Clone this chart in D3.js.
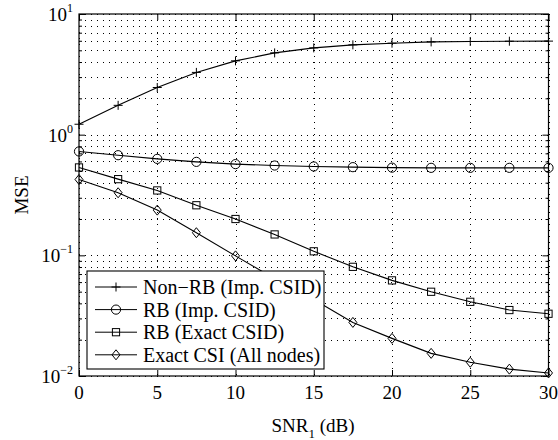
<!DOCTYPE html>
<html>
<head>
<meta charset="utf-8">
<script src="https://cdn.jsdelivr.net/npm/d3@7.9.0/dist/d3.min.js"></script>
<style>
  body { margin: 0; background: #fff; }
  svg { display: block; font-family: "Liberation Serif", "Times New Roman", serif; }
</style>
</head>
<body>
<svg id="chart" width="558" height="440"></svg>
<script>
// data
const snr = [0, 2.5, 5, 7.5, 10, 12.5, 15, 17.5, 20, 22.5, 25, 27.5, 30];
const nonRB = [1.22, 1.75, 2.46, 3.28, 4.09, 4.76, 5.24, 5.55, 5.73, 5.87, 5.92, 5.95, 5.96];
const rbImp = [0.726, 0.676, 0.63, 0.595, 0.57, 0.555, 0.545, 0.538, 0.533, 0.531, 0.531, 0.531, 0.531];
const rbExact = [0.535, 0.428, 0.345, 0.26, 0.2, 0.149, 0.108, 0.0803, 0.062, 0.0499, 0.0412, 0.0352, 0.0328];
const exactCSI = [0.425, 0.33, 0.237, 0.154, 0.099, 0.064, 0.043, 0.0278, 0.0205, 0.0154, 0.013, 0.0114, 0.0106];

const seriesNames = ['Non\u2212RB (Imp. CSID)', 'RB (Imp. CSID)', 'RB (Exact CSID)', 'Exact CSI (All nodes)'];
const seriesValues = [nonRB, rbImp, rbExact, exactCSI];
const markerTypes = ['plus', 'circle', 'square', 'diamond'];

const xTicks = [0, 5, 10, 15, 20, 25, 30];
const yExponents = [-2, -1, 0, 1];

const pLeft = 79, pRight = 548.5, pTop = 14, pBottom = 376;

const svg = d3.select('#chart');
const x = d3.scaleLinear().domain([0, 30]).range([pLeft, pRight]);
const y = d3.scaleLog().domain([0.01, 10]).range([pBottom, pTop]);

// grid
const minorY = [];
yExponents.slice(0, -1).forEach((e) => {
    for (let k = 1; k <= 9; k++) minorY.push(k * Math.pow(10, e));
});
minorY.push(10);

const grid = svg.append('g').attr('stroke', '#000').attr('stroke-width', 1)
    .attr('stroke-dasharray', '1,5');
grid.selectAll('.hg').data(minorY).join('line')
    .attr('x1', pLeft).attr('x2', pRight)
    .attr('y1', (d) => Math.round(y(d)) + 0.5).attr('y2', (d) => Math.round(y(d)) + 0.5);
grid.selectAll('.vg').data(xTicks).join('line')
    .attr('y1', pTop).attr('y2', pBottom)
    .attr('x1', (d) => Math.round(x(d)) + 0.5).attr('x2', (d) => Math.round(x(d)) + 0.5);

// axes with inward ticks
function styleAxis(g) {
    g.select('.domain').remove();
    g.selectAll('line').attr('stroke', '#000');
    g.selectAll('text').remove();
}
const majorY = yExponents.map((e) => Math.pow(10, e));
const minorOnly = minorY.filter((v) => !majorY.some((m) => Math.abs(m - v) < 1e-9));

svg.append('g').attr('transform', `translate(0,${pBottom})`)
    .call(d3.axisBottom(x).tickValues(xTicks).tickSize(-6)).call(styleAxis);
svg.append('g').attr('transform', `translate(0,${pTop})`)
    .call(d3.axisTop(x).tickValues(xTicks).tickSize(-6)).call(styleAxis);
svg.append('g').attr('transform', `translate(${pLeft},0)`)
    .call(d3.axisLeft(y).tickValues(majorY).tickSize(-6)).call(styleAxis);
svg.append('g').attr('transform', `translate(${pRight},0)`)
    .call(d3.axisRight(y).tickValues(majorY).tickSize(-6)).call(styleAxis);
svg.append('g').attr('transform', `translate(${pLeft},0)`)
    .call(d3.axisLeft(y).tickValues(minorOnly).tickSize(-3)).call(styleAxis);
svg.append('g').attr('transform', `translate(${pRight},0)`)
    .call(d3.axisRight(y).tickValues(minorOnly).tickSize(-3)).call(styleAxis);

svg.append('rect').attr('x', pLeft).attr('y', pTop)
    .attr('width', pRight - pLeft).attr('height', pBottom - pTop)
    .attr('fill', 'none').attr('stroke', '#000').attr('stroke-width', 1.2);

// tick labels
svg.selectAll('.xl').data(xTicks).join('text')
    .attr('x', (d) => x(d)).attr('y', pBottom + 23)
    .attr('text-anchor', 'middle').attr('font-size', 19).text((d) => d);

yExponents.forEach((e) => {
    const t = svg.append('text').attr('x', 73).attr('y', y(Math.pow(10, e)) + 7)
        .attr('text-anchor', 'end').attr('font-size', 19);
    t.append('tspan').text('10');
    t.append('tspan').attr('dy', -9).attr('font-size', 12).text(e < 0 ? '\u2212' + (-e) : e);
});

// axis titles
const xt = svg.append('text').attr('x', 313).attr('y', 432)
    .attr('text-anchor', 'middle').attr('font-size', 19);
xt.append('tspan').text('SNR');
xt.append('tspan').attr('dy', 6).attr('font-size', 13).text('1');
xt.append('tspan').attr('dy', -6).text(' (dB)');

svg.append('text').attr('transform', `translate(28,${(pTop + pBottom) / 2}) rotate(-90)`)
    .attr('text-anchor', 'middle').attr('font-size', 19).text('MSE');

// markers
function drawMarker(g, type, cx, cy) {
    if (type === 'plus') {
        g.append('path').attr('d', `M${cx - 4.5},${cy}H${cx + 4.5}M${cx},${cy - 4.5}V${cy + 4.5}`)
            .attr('stroke', '#000').attr('fill', 'none');
    } else if (type === 'circle') {
        g.append('circle').attr('cx', cx).attr('cy', cy).attr('r', 4.6)
            .attr('stroke', '#000').attr('fill', 'none');
    } else if (type === 'square') {
        g.append('rect').attr('x', cx - 3.6).attr('y', cy - 3.6).attr('width', 7.2).attr('height', 7.2)
            .attr('stroke', '#000').attr('fill', 'none');
    } else {
        g.append('path').attr('d', `M${cx},${cy - 5}L${cx + 4},${cy}L${cx},${cy + 5}L${cx - 4},${cy}Z`)
            .attr('stroke', '#000').attr('fill', 'none');
    }
}

const line = d3.line().x((d) => x(d[0])).y((d) => y(d[1]));
seriesValues.forEach((vals, i) => {
    const pts = snr.map((s, j) => [s, vals[j]]);
    const g = svg.append('g');
    g.append('path').attr('d', line(pts)).attr('fill', 'none')
        .attr('stroke', '#000').attr('stroke-width', 1.1);
    pts.forEach((p) => drawMarker(g, markerTypes[i], x(p[0]), y(p[1])));
});

// legend
const lg = svg.append('g');
lg.append('rect').attr('x', 87).attr('y', 271).attr('width', 237).attr('height', 98)
    .attr('fill', '#fff').attr('stroke', '#000').attr('stroke-width', 1.1);
seriesNames.forEach((name, i) => {
    const cy = 287 + i * 22.6;
    lg.append('line').attr('x1', 95).attr('x2', 137).attr('y1', cy).attr('y2', cy)
        .attr('stroke', '#000');
    drawMarker(lg, markerTypes[i], 116, cy);
    lg.append('text').attr('x', 143).attr('y', cy + 7).attr('font-size', 20).text(name);
});
</script>
</body>
</html>
